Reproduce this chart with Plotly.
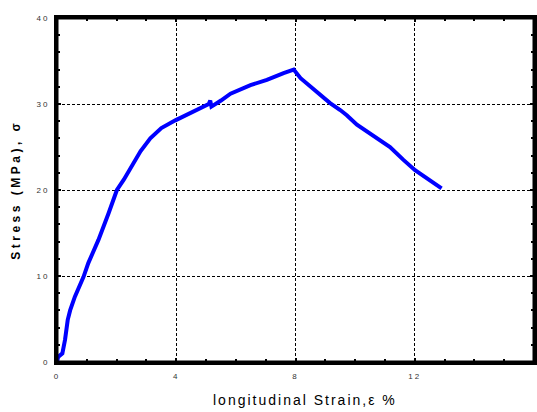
import plotly.graph_objects as go

strain = [0, 0.04, 0.18, 0.27, 0.36, 0.44, 0.6, 0.78, 0.89, 1.05, 1.39, 1.73, 2.01, 2.24,
          2.5, 2.8, 3.13, 3.5, 3.97, 4.5, 5.09, 5.14, 5.18, 5.5, 5.82, 6.49, 7.04, 7.6,
          7.94, 8.17, 8.5, 9.16, 9.5, 9.72, 10.06, 10.6, 11.17, 11.62, 12.01, 12.9]
stress = [0, 0.6, 1.0, 2.6, 4.9, 6.0, 7.6, 9.0, 9.9, 11.5, 14.2, 17.3, 20.0, 21.2,
          22.8, 24.5, 26.0, 27.2, 28.1, 29.0, 30.0, 30.4, 29.7, 30.4, 31.2, 32.2, 32.8, 33.6,
          34.0, 33.0, 32.0, 30.1, 29.3, 28.7, 27.6, 26.4, 25.0, 23.5, 22.3, 20.2]

x_ticks = [0, 4, 8, 12, 16]
y_ticks = [0, 10, 20, 30, 40]
x_title = "longitudinal Strain,ε %"
y_title = "Stress (MPa), σ"

fig = go.Figure()
fig.add_trace(go.Scatter(x=strain, y=stress, mode="lines",
                         line=dict(color="#0000FF", width=4), showlegend=False))

FONT = "Liberation Sans, Arial, sans-serif"
tickfont = dict(family=FONT, size=8, color="#333333")
common = dict(showline=True, linecolor="black", linewidth=3, mirror="allticks",
              ticks="inside", ticklen=4, tickwidth=2, tickcolor="black",
              showgrid=True, gridcolor="black", gridwidth=1, griddash="3px,2px",
              zeroline=False, tickfont=tickfont, automargin=False)

fig.update_xaxes(range=[0, 16], tickvals=x_ticks, ticklabelstandoff=4,
                 minor=dict(dtick=1, ticks="inside", ticklen=3, tickwidth=2,
                            tickcolor="black", showgrid=False),
                 **common)
fig.update_yaxes(range=[0, 40], tickvals=y_ticks, ticklabelstandoff=3,
                 minor=dict(dtick=2, ticks="inside", ticklen=3, tickwidth=2,
                            tickcolor="black", showgrid=False),
                 **common)

# full frame drawn as a shape so the right edge is always shown
fig.add_shape(type="rect", xref="paper", yref="paper", x0=0, x1=1, y0=0, y1=1,
              line=dict(color="black", width=3), layer="above")

fig.add_annotation(text=x_title, xref="paper", yref="paper", x=0.52, y=-0.11,
                   xanchor="center", yanchor="middle", showarrow=False,
                   font=dict(family=FONT, size=14, color="black"))
fig.add_annotation(text="<b>" + y_title + "</b>", xref="paper", yref="paper",
                   x=-0.087, y=0.5, xanchor="center", yanchor="middle", showarrow=False,
                   textangle=-90, font=dict(family=FONT, size=12, color="black"))

fig.update_layout(width=537, height=412, margin=dict(l=57, r=3, t=18, b=50),
                  plot_bgcolor="white", paper_bgcolor="white")

css = """
var s = document.createElement('style');
s.textContent = 'html, body {margin:0; padding:0; overflow:hidden;} ' +
  '.xtick text, .ytick text {letter-spacing: 2px;} ' +
  'g.annotation[data-index="0"] text.annotation-text {letter-spacing: 2px;} ' +
  'g.annotation[data-index="1"] text.annotation-text {letter-spacing: 3.5px;}';
document.head.appendChild(s);
"""
fig.write_html("out.html", post_script=css, config={"displayModeBar": False})
